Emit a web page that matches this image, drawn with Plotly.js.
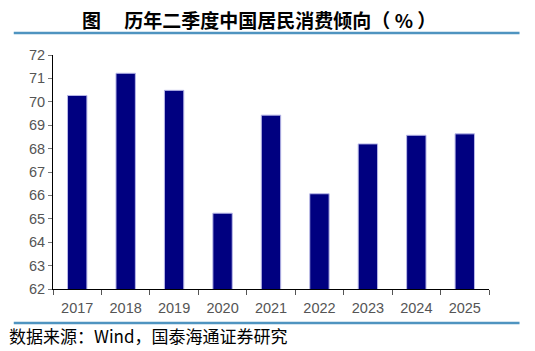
<!DOCTYPE html>
<html><head><meta charset="utf-8">
<script src="https://cdn.plot.ly/plotly-3.0.1.min.js"></script>
<style>html,body{margin:0;padding:0;background:#fff;}#chart{width:535px;height:351px;}</style>
</head><body><div id="chart"></div>
<script>
const years = ['2017','2018','2019','2020','2021','2022','2023','2024','2025'];
const propensity = [70.27, 71.22, 70.49, 65.24, 69.43, 66.07, 68.2, 68.57, 68.63];
const yTicks = [62,63,64,65,66,67,68,69,70,71,72];

const trace = {
  type: 'bar', x: years, y: propensity, width: 0.4,
  marker: {color: '#000080', line: {color: '#b8b8e8', width: 1}},
  hoverinfo: 'x+y'
};
const layout = {
  width: 535, height: 351,
  margin: {l: 53, r: 46, t: 55, b: 62},
  paper_bgcolor: '#fff', plot_bgcolor: '#fff',
  showlegend: false,
  bargap: 0.6,
  xaxis: {
    type: 'category', showline: true, linecolor: '#000', linewidth: 1,
    ticks: 'outside', tickson: 'boundaries', ticklen: 5, tickcolor: '#555',
    ticklabelstandoff: 6,
    tickfont: {family: 'Liberation Sans, Arial', size: 14.5, color: '#555'},
    showgrid: false, zeroline: false
  },
  yaxis: {
    range: [62, 72], tickvals: yTicks, showline: true, linecolor: '#000', linewidth: 1,
    ticks: 'outside', ticklen: 4, tickcolor: '#777',
    tickfont: {family: 'Liberation Sans, Arial', size: 14.5, color: '#555'},
    showgrid: false, zeroline: false
  },
  shapes: [
    {type: 'line', xref: 'paper', yref: 'paper', x0: -0.090, x1: 1.07, y0: 1.0 + (55-33)/234, y1: 1.0 + (55-33)/234,
     line: {color: '#4f94c0', width: 2.5}},
    {type: 'line', xref: 'paper', yref: 'paper', x0: -0.090, x1: 1.07, y0: -(323-289)/234, y1: -(323-289)/234,
     line: {color: '#4f94c0', width: 2.5}}
  ],
  annotations: [
    {xref: 'paper', yref: 'paper', x: (80-53)/436, y: 1.0 + (55-19)/234, xanchor: 'left', yanchor: 'middle',
     text: '<b>图　 历年二季度中国居民消费倾向（ % ）</b>', showarrow: false,
     font: {family: 'Noto Sans CJK SC', size: 19, color: '#000'}},
    {xref: 'paper', yref: 'paper', x: (7-53)/436, y: -(335-289)/234, xanchor: 'left', yanchor: 'middle',
     text: '数据来源：Wind，国泰海通证券研究', showarrow: false,
     font: {family: 'Noto Sans CJK SC', size: 17, color: '#000'}}
  ]
};
Plotly.newPlot('chart', [trace], layout, {displayModeBar: false, staticPlot: true});
</script></body></html>
